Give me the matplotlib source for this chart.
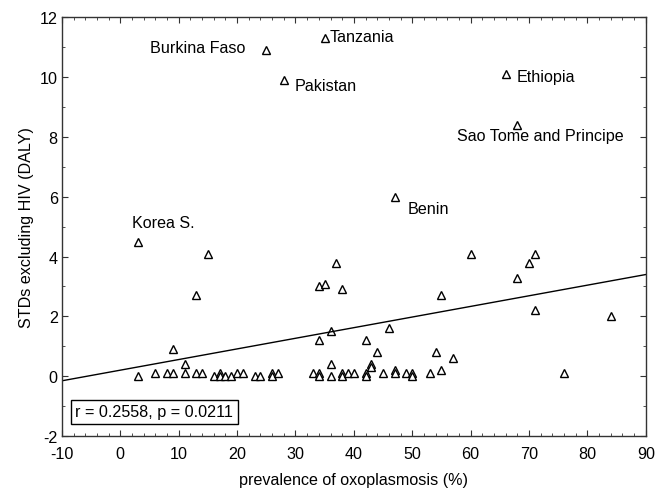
import matplotlib
matplotlib.use("Agg")
import matplotlib.pyplot as plt
from matplotlib.ticker import MultipleLocator

plt.rcParams['font.family'] = ['Liberation Sans', 'DejaVu Sans']
plt.rcParams['axes.unicode_minus'] = False

# labeled countries
lab_x = [25, 35, 28, 66, 68, 47, 3]
lab_y = [10.9, 11.3, 9.9, 10.1, 8.4, 6.0, 4.5]
lab_names = ["Burkina Faso", "Tanzania", "Pakistan", "Ethiopia",
             "Sao Tome and Principe", "Benin", "Korea S."]

# other countries
pts_x = [15, 13, 9, 11, 34, 35, 37, 38, 36, 34, 36,
         60, 71, 70, 68, 55, 71, 84, 46, 42, 44, 54, 57, 43, 43, 55, 76,
         3, 6, 8, 9, 11, 13, 14, 16, 17, 17, 18, 19, 20, 21, 23, 24, 26, 26, 27,
         33, 34, 34, 36, 38, 38, 39, 40, 42, 42, 45, 47, 47, 49, 50, 50, 53]
pts_y = [4.1, 2.7, 0.9, 0.4, 3.0, 3.1, 3.8, 2.9, 1.5, 1.2, 0.4,
         4.1, 4.1, 3.8, 3.3, 2.7, 2.2, 2.0, 1.6, 1.2, 0.8, 0.8, 0.6, 0.4, 0.3, 0.2, 0.1,
         0.0, 0.1, 0.1, 0.1, 0.1, 0.1, 0.1, 0.0, 0.1, 0.0, 0.0, 0.0, 0.1, 0.1, 0.0, 0.0, 0.1, 0.0, 0.1,
         0.1, 0.1, 0.0, 0.0, 0.1, 0.0, 0.1, 0.1, 0.1, 0.0, 0.1, 0.2, 0.1, 0.1, 0.1, 0.0, 0.1]

# regression line coefficients
reg_intercept = 0.205
reg_slope = 0.0355
reg_x = [-10, 90]
stat_text = "r = 0.2558, p = 0.0211"

# label placements
lab_tx = [21.5, 35.9, 29.9, 67.9, 72.0, 49.2, 2.0]
lab_ty = [11.0, 11.35, 9.7, 10.03, 8.03, 5.6, 5.15]
lab_ha = ['right', 'left', 'left', 'left', 'center', 'left', 'left']

FS = 11.6

fig = plt.figure(figsize=(6.59, 4.89), dpi=100)
ax = fig.add_axes([0.094, 0.106, 0.886, 0.857])

ax.plot(pts_x + lab_x, pts_y + lab_y, linestyle='none', marker='^', markersize=5.5,
        markerfacecolor='white', markeredgecolor='black', markeredgewidth=1.0)
ax.plot(reg_x, [reg_intercept + reg_slope * v for v in reg_x], color='black', linewidth=1.0)

for tx, ty, name, ha in zip(lab_tx, lab_ty, lab_names, lab_ha):
    ax.text(tx, ty, name, ha=ha, va='center', fontsize=FS)

ax.text(0.023, 0.04, stat_text, transform=ax.transAxes, ha='left', va='bottom', fontsize=FS,
        bbox=dict(boxstyle='square,pad=0.3', facecolor='white', edgecolor='black', linewidth=1.0))

ax.set_xlim(-10, 90)
ax.set_ylim(-2, 12)
ax.xaxis.set_major_locator(MultipleLocator(10))
ax.xaxis.set_minor_locator(MultipleLocator(2))
ax.yaxis.set_major_locator(MultipleLocator(2))
ax.yaxis.set_minor_locator(MultipleLocator(1))
ax.tick_params(which='both', direction='in', top=True, right=True, labelsize=FS, color='#333333')
ax.tick_params(which='major', length=4)
ax.tick_params(which='minor', length=2)
ax.tick_params(axis='x', which='major', pad=7)
ax.tick_params(axis='y', which='major', pad=3)
for s in ax.spines.values():
    s.set_color('#333333')
    s.set_linewidth(1.0)

ax.set_xlabel("prevalence of oxoplasmosis (%)", fontsize=FS, labelpad=8)
ax.set_ylabel("STDs excluding HIV (DALY)", fontsize=FS, labelpad=4)

fig.savefig("out.png", dpi=100)
